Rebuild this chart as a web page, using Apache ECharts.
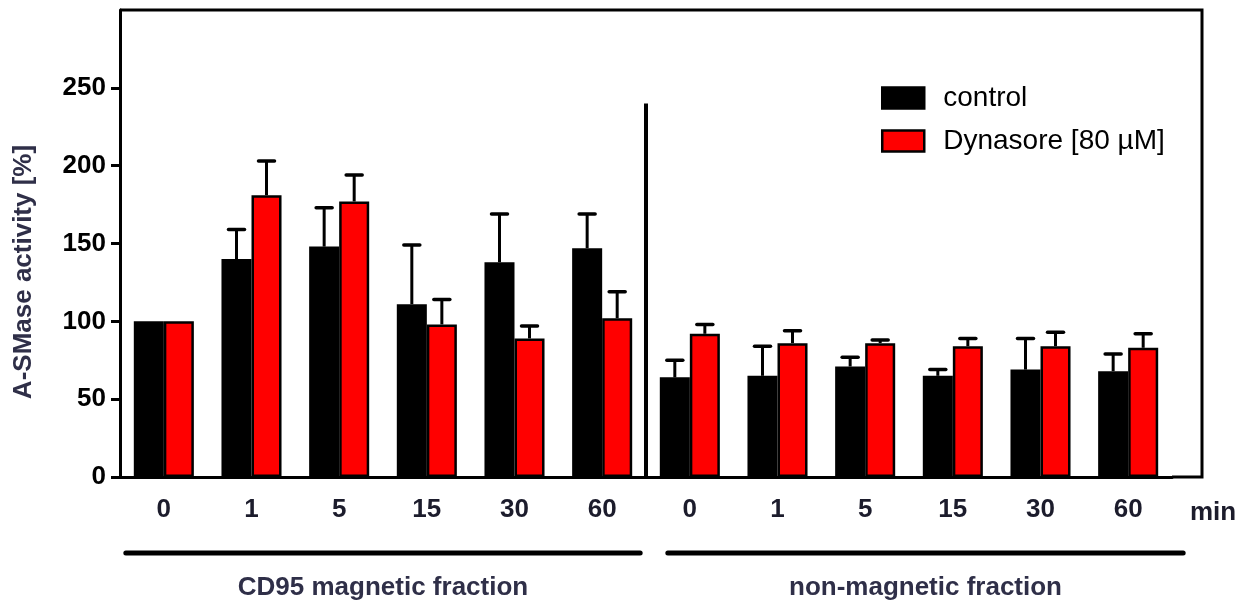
<!DOCTYPE html>
<html>
<head>
<meta charset="utf-8">
<script src="https://cdn.jsdelivr.net/npm/echarts@6/dist/echarts.min.js"></script>
<style>
html,body{margin:0;padding:0;background:#fff;}
#main{width:1244px;height:604px;}
</style>
</head>
<body>
<div id="main"></div>
<script>
// ---- data ----
const categories = ['0', '1', '5', '15', '30', '60', '0', '1', '5', '15', '30', '60'];
const control    = [100, 140, 148, 111, 138, 147, 64, 65, 71, 65, 69, 68];
const controlSD  = [0, 19, 25, 38, 31, 22, 11, 19, 6, 4, 20, 11];
const dynasore   = [100, 181, 177, 98, 89, 102, 92, 86, 86, 84, 84, 83];
const dynasoreSD = [0, 22, 17, 16, 8, 17, 6, 8, 2, 5, 9, 9];
const yTicks = [0, 50, 100, 150, 200, 250];
const groupNames = ['CD95 magnetic fraction', 'non-magnetic fraction'];
const seriesNames = ['control', 'Dynasore [80 µM]'];

const FONT = '"Liberation Sans", Arial, sans-serif';
const NAVY = '#2f2f48';
const CAT_GAP = 0.315;

const chart = echarts.init(document.getElementById('main'));

function errRenderer(side) {
  return function (params, api) {
    const i = api.value(0), v = api.value(1), sd = api.value(2);
    if (!sd) return null;
    const base = api.coord([i, v]);
    const top = api.coord([i, v + sd]);
    const band = api.size([1, 0])[0];
    const bw = band * (1 - CAT_GAP) / 2;
    const x = base[0] + side * bw / 2;
    return {
      type: 'group',
      children: [
        { type: 'line', shape: { x1: x, y1: base[1], x2: x, y2: top[1] }, style: { stroke: '#000', lineWidth: 3 } },
        { type: 'line', shape: { x1: x - 8, y1: top[1], x2: x + 8, y2: top[1] }, style: { stroke: '#000', lineWidth: 3.5, lineCap: 'round' } }
      ]
    };
  };
}

const option = {
  backgroundColor: '#fff',
  animation: false,
  grid: { left: 120, right: 72, top: 10, bottom: 127 },
  legend: {
    orient: 'vertical',
    left: 876, top: 78,
    itemWidth: 42, itemHeight: 21, itemGap: 13,
    icon: 'rect',
    itemStyle: { borderWidth: 2.5 },
    textStyle: { fontFamily: FONT, fontSize: 28, color: '#000', lineHeight: 30, padding: [0, 0, 0, 14] },
    data: seriesNames
  },
  xAxis: {
    type: 'category',
    data: categories,
    axisLine: { lineStyle: { color: '#000', width: 3 } },
    axisTick: { alignWithLabel: true, length: 9, lineStyle: { color: '#000', width: 3 } },
    axisLabel: { fontFamily: FONT, fontSize: 26, fontWeight: 'bold', color: '#1c1c2c', margin: 20 },
    splitLine: { show: false }
  },
  yAxis: {
    type: 'value',
    min: 0, max: 300, interval: 50,
    axisLine: { show: true, lineStyle: { color: '#000', width: 3 } },
    axisTick: { show: true, length: 9, lineStyle: { color: '#000', width: 3 }, customValues: yTicks },
    axisLabel: { fontFamily: FONT, fontSize: 26, fontWeight: 'bold', color: '#000', margin: 14, customValues: yTicks },
    splitLine: { show: false }
  },
  series: [
    {
      name: seriesNames[0], type: 'bar', data: control,
      barGap: '0%', barCategoryGap: (CAT_GAP * 100) + '%',
      itemStyle: { color: '#000', borderColor: '#000', borderWidth: 2.5 }
    },
    {
      name: seriesNames[1], type: 'bar', data: dynasore,
      itemStyle: { color: '#ff0000', borderColor: '#000', borderWidth: 2.5 }
    },
    {
      type: 'custom', renderItem: errRenderer(-1), z: 5,
      encode: { x: 0, y: 1 },
      data: control.map((v, i) => [i, v, controlSD[i]])
    },
    {
      type: 'custom', renderItem: errRenderer(1), z: 5,
      encode: { x: 0, y: 1 },
      data: dynasore.map((v, i) => [i, v, dynasoreSD[i]])
    }
  ]
};
chart.setOption(option);

// decorations derived from the grid
const x0 = chart.convertToPixel({ xAxisIndex: 0 }, 0);
const x5 = chart.convertToPixel({ xAxisIndex: 0 }, 5);
const x6 = chart.convertToPixel({ xAxisIndex: 0 }, 6);
const x11 = chart.convertToPixel({ xAxisIndex: 0 }, 11);
const yTop = chart.convertToPixel({ yAxisIndex: 0 }, 300);
const yBot = chart.convertToPixel({ yAxisIndex: 0 }, 0);
const yDiv = chart.convertToPixel({ yAxisIndex: 0 }, 240);
const divX = (x5 + x6) / 2;
const gridRight = 1244 - 72;
const frameRight = gridRight + 30;

chart.setOption({
  graphic: [
    { type: 'polyline', shape: { points: [[120, yTop], [frameRight, yTop], [frameRight, yBot], [gridRight, yBot]] },
      style: { stroke: '#000', lineWidth: 3, fill: null }, z: 10 },
    { type: 'line', shape: { x1: divX, y1: yDiv, x2: divX, y2: yBot }, style: { stroke: '#000', lineWidth: 4 }, z: 10 },
    { type: 'line', shape: { x1: x0 - 38, y1: 553, x2: x5 + 38, y2: 553 }, style: { stroke: '#000', lineWidth: 5, lineCap: 'round' } },
    { type: 'line', shape: { x1: x6 - 22, y1: 553, x2: x11 + 55, y2: 553 }, style: { stroke: '#000', lineWidth: 5, lineCap: 'round' } },
    { type: 'text', x: (x0 - 38 + x5 + 38) / 2, y: 588,
      style: { text: groupNames[0], font: 'bold 26px ' + FONT, fill: NAVY, align: 'center', verticalAlign: 'middle' } },
    { type: 'text', x: (x6 - 22 + x11 + 55) / 2, y: 588,
      style: { text: groupNames[1], font: 'bold 26px ' + FONT, fill: NAVY, align: 'center', verticalAlign: 'middle' } },
    { type: 'text', x: 1190, y: 513,
      style: { text: 'min', font: 'bold 26px ' + FONT, fill: '#1c1c2c', align: 'left', verticalAlign: 'middle' } },
    { type: 'text', x: 24, y: 272, rotation: Math.PI / 2,
      style: { text: 'A-SMase activity [%]', font: 'bold 26px ' + FONT, fill: NAVY, align: 'center', verticalAlign: 'middle' } }
  ]
});
</script>
</body>
</html>
